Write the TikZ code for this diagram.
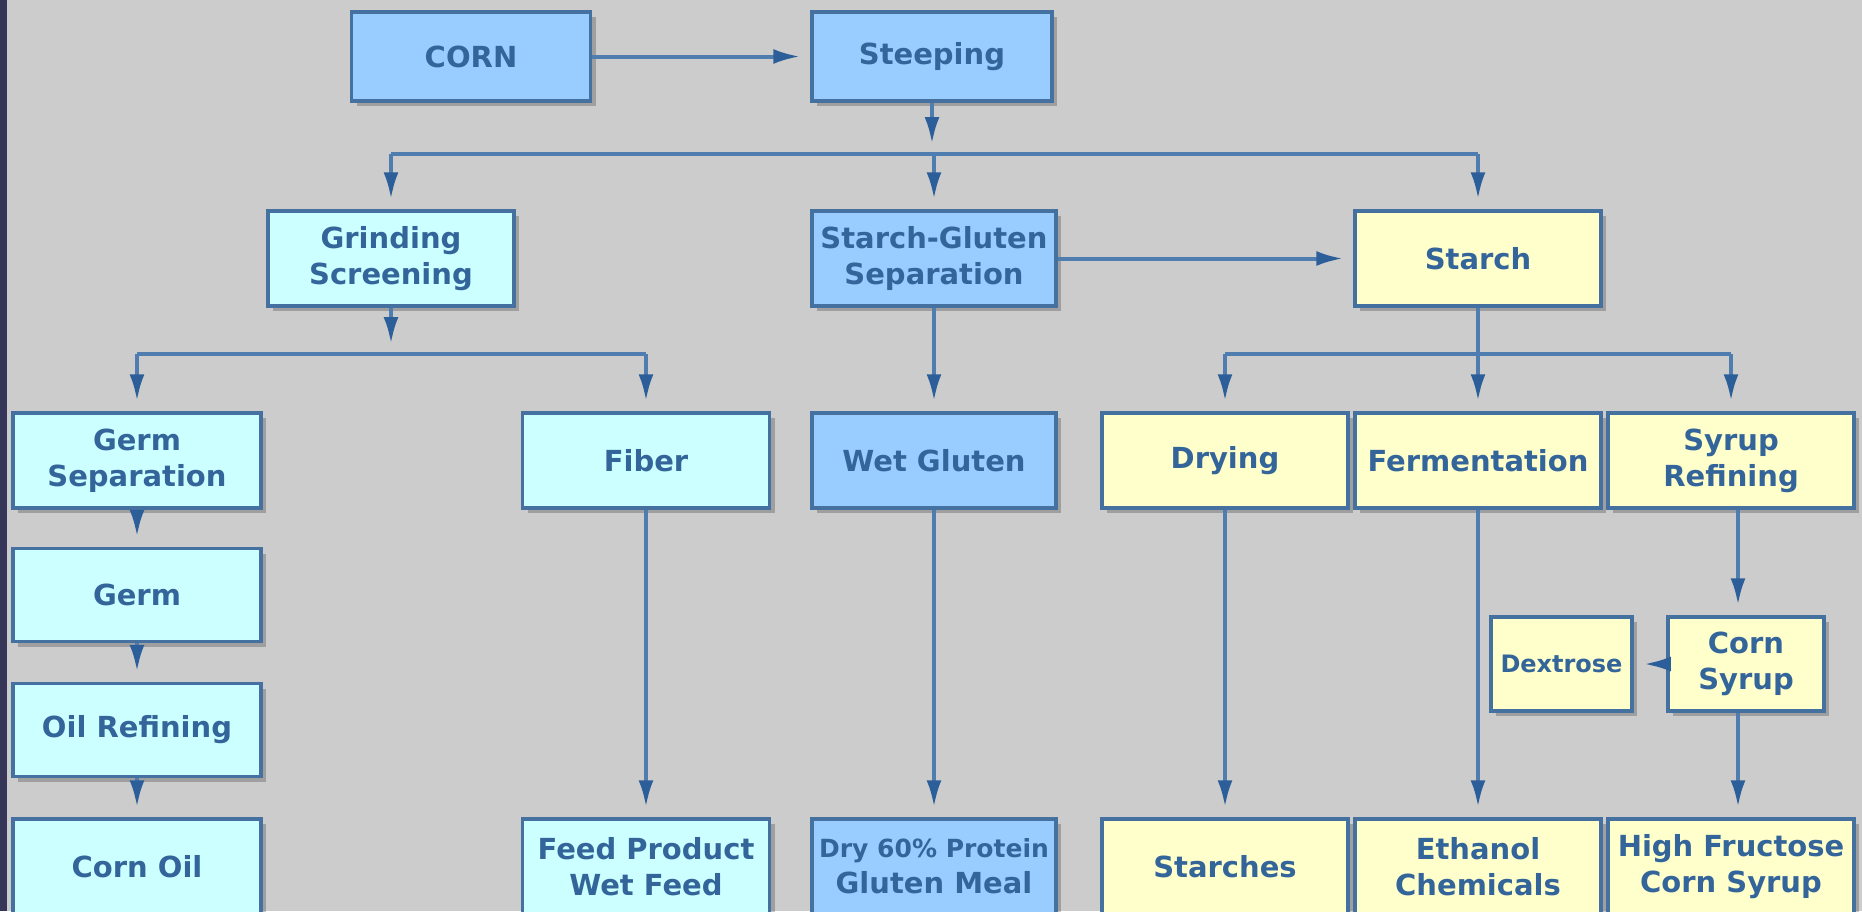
\documentclass[tikz,border=0pt]{standalone}
\usepackage{fontspec}
\setmainfont{DejaVu Sans}
\usetikzlibrary{arrows.meta,shadows}
\definecolor{bgcol}{HTML}{CCCCCC}
\definecolor{stripcol}{HTML}{363658}
\definecolor{bordcol}{HTML}{44719F}
\definecolor{linecol}{HTML}{4F7DB0}
\definecolor{headcol}{HTML}{2C5F99}
\definecolor{txtcol}{HTML}{33659A}
\definecolor{fblue}{HTML}{99CCFF}
\definecolor{fcyan}{HTML}{CCFFFF}
\definecolor{fyellow}{HTML}{FFFFCC}
\tikzset{
  box/.style={draw=bordcol, line width=3.5pt, align=center, inner sep=0pt,
    text=txtcol, font=\bfseries\fontsize{29}{36}\selectfont,
    drop shadow={shadow xshift=5pt, shadow yshift=-5pt, opacity=0.22, fill=black}},
  bbox/.style={box, fill=fblue},
  cbox/.style={box, fill=fcyan},
  ybox/.style={box, fill=fyellow},
  wire/.style={draw=linecol, line width=4pt},
  arr/.style={wire, -{Latex[length=27pt,width=15pt,color=headcol]}, shorten >=10pt},
}
\begin{document}
\begin{tikzpicture}[x=1pt,y=-1pt]
\useasboundingbox (0,0) rectangle (1862,911);
\clip (0,0) rectangle (1862,911);
\fill[bgcol] (0,0) rectangle (1862,911);
\fill[stripcol] (0,0) rectangle (7,911);
% row 1
\node[bbox, minimum width=239pt, minimum height=89pt] (corn) at (471,56.5) {CORN};
\node[bbox, minimum width=240pt, minimum height=89pt] (steep) at (932,56.5) {Steeping};
% row 2
\node[cbox, minimum width=246pt, minimum height=95pt] (grind) at (391,258.5) {Grinding\\Screening};
\node[bbox, minimum width=244pt, minimum height=95pt] (sg) at (934,258.5) {Starch-Gluten\\Separation};
\node[ybox, minimum width=246pt, minimum height=95pt] (starch) at (1478,258.5) {Starch};
% row 3
\node[cbox, minimum width=248pt, minimum height=95pt] (germsep) at (137,460.5) {Germ\\Separation};
\node[cbox, minimum width=247pt, minimum height=95pt] (fiber) at (646,460.5) {Fiber};
\node[bbox, minimum width=244pt, minimum height=95pt] (wetgl) at (934,460.5) {Wet Gluten};
\node[ybox, minimum width=246pt, minimum height=95pt] (drying) at (1225,460.5) {Drying};
\node[ybox, minimum width=246pt, minimum height=95pt] (ferm) at (1478,460.5) {Fermentation};
\node[ybox, minimum width=246pt, minimum height=95pt] (syref) at (1731,460.5) {Syrup\\Refining};
% germ column
\node[cbox, minimum width=248pt, minimum height=93pt] (germ) at (137,595) {Germ};
\node[cbox, minimum width=248pt, minimum height=93pt] (oil) at (137,730) {Oil Refining};
% syrup branch
\node[ybox, minimum width=156pt, minimum height=94pt] (csyr) at (1746,664) {Corn\\Syrup};
\node[ybox, minimum width=141pt, minimum height=94pt, font=\bfseries\fontsize{24}{30}\selectfont] (dext) at (1561.5,664) {Dextrose};
% row 4
\node[cbox, minimum width=248pt, minimum height=95pt] (coil) at (137,866.5) {Corn Oil};
\node[cbox, minimum width=247pt, minimum height=95pt] (feed) at (646,866.5) {Feed Product\\Wet Feed};
\node[bbox, minimum width=244pt, minimum height=95pt] (dry) at (934,866.5) {{\fontsize{25}{36}\selectfont Dry 60\% Protein}\\Gluten Meal};
\node[ybox, minimum width=246pt, minimum height=95pt] (starches) at (1225,866.5) {Starches};
\node[ybox, minimum width=246pt, minimum height=95pt] (eth) at (1478,866.5) {Ethanol\\Chemicals};
\node[ybox, minimum width=246pt, minimum height=95pt] (hfcs) at (1731,866.5) {High Fructose\\Corn Syrup};
% buses
\coordinate (b1) at (0,154);
\coordinate (b2) at (0,354);
\coordinate (sx) at (1738,0);
% connectors
\draw[arr] (corn.east) -- (steep.west);
\draw[arr] (steep.south) -- (steep.south |- b1);
\draw[wire] (grind.north |- b1) -- (starch.north |- b1);
\draw[arr] (grind.north |- b1) -- (grind.north);
\draw[arr] (sg.north |- b1) -- (sg.north);
\draw[arr] (starch.north |- b1) -- (starch.north);
\draw[arr] (sg.east) -- (starch.west);
\draw[arr] (grind.south) -- (grind.south |- b2);
\draw[wire] (germsep.north |- b2) -- (fiber.north |- b2);
\draw[arr] (germsep.north |- b2) -- (germsep.north);
\draw[arr] (fiber.north |- b2) -- (fiber.north);
\draw[arr] (sg.south) -- (wetgl.north);
\draw[wire] (starch.south) -- (starch.south |- b2);
\draw[wire] (drying.north |- b2) -- (syref.north |- b2);
\draw[arr] (drying.north |- b2) -- (drying.north);
\draw[arr] (ferm.north |- b2) -- (ferm.north);
\draw[arr] (syref.north |- b2) -- (syref.north);
\draw[arr] (germsep.south) -- (germ.north);
\draw[arr] (germ.south) -- (oil.north);
\draw[arr] (oil.south) -- (coil.north);
\draw[arr] (fiber.south) -- (feed.north);
\draw[arr] (wetgl.south) -- (dry.north);
\draw[arr] (drying.south) -- (starches.north);
\draw[arr] (ferm.south) -- (eth.north);
\draw[arr] (syref.south -| sx) -- (csyr.north -| sx);
\draw[arr] (csyr.south -| sx) -- (hfcs.north -| sx);
\draw[arr] (csyr.west) -- (dext.east);
\end{tikzpicture}
\end{document}
